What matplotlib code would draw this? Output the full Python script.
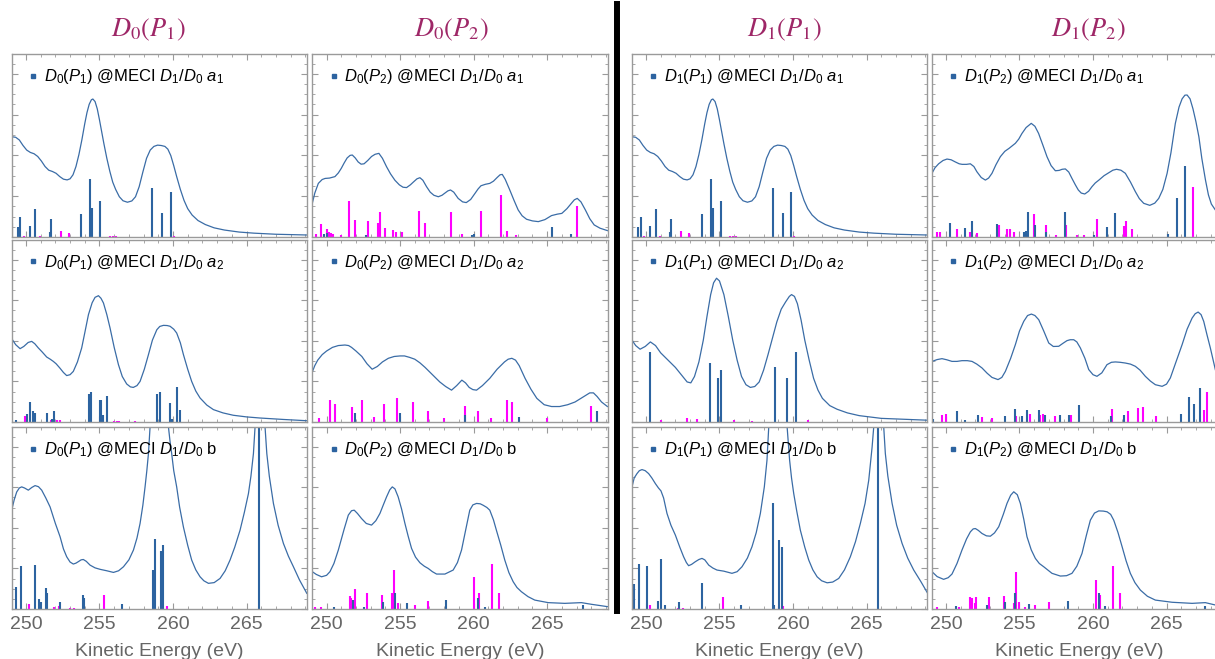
import numpy as np
import matplotlib.pyplot as plt
from matplotlib.ticker import MultipleLocator
from matplotlib.lines import Line2D

plt.rcParams['font.family'] = ['Liberation Sans', 'DejaVu Sans']
plt.rcParams['mathtext.fontset'] = 'custom'
plt.rcParams['mathtext.it'] = 'Liberation Sans:italic'
plt.rcParams['mathtext.rm'] = 'Liberation Sans'

# ---- labels ----
col_titles = [r'$D_0(P_1)$', r'$D_0(P_2)$', r'$D_1(P_1)$', r'$D_1(P_2)$']
row_tags = [r'$a_1$', r'$a_2$', 'b']
xticks = [250, 255, 260, 265]
xlabel = 'Kinetic Energy (eV)'

# ---- row 1 : @MECI D1/D0 a1 ----
d0p1_a1_x = [249.03, 249.3, 249.55, 249.8, 250.05, 250.3, 250.55, 250.8, 251.05, 251.3, 251.55,
             251.8, 252.05, 252.3, 252.55, 252.8, 253.0, 253.2, 253.4, 253.6, 253.8, 254.0,
             254.15, 254.3, 254.45, 254.55, 254.7, 254.85, 255.0, 255.15, 255.3, 255.5, 255.7,
             255.9, 256.1, 256.35, 256.6, 256.9, 257.2, 257.45, 257.7, 257.95, 258.2, 258.45,
             258.7, 258.95, 259.2, 259.45, 259.65, 259.85, 260.05, 260.25, 260.5, 260.75, 261.0,
             261.3, 261.7, 262.2, 262.8, 263.5, 264.5, 265.5, 267.0, 269.1]
d0p1_a1_y = [0.548, 0.545, 0.53, 0.50, 0.475, 0.462, 0.455, 0.44, 0.415, 0.385, 0.365,
             0.358, 0.348, 0.33, 0.316, 0.312, 0.318, 0.34, 0.385, 0.45, 0.53, 0.62,
             0.68, 0.725, 0.75, 0.754, 0.74, 0.70, 0.64, 0.575, 0.51, 0.43, 0.36,
             0.30, 0.26, 0.22, 0.198, 0.19, 0.197, 0.22, 0.275, 0.355, 0.43, 0.475,
             0.495, 0.502, 0.50, 0.495, 0.48, 0.445, 0.39, 0.33, 0.26, 0.20, 0.155,
             0.12, 0.09, 0.068, 0.05, 0.038, 0.027, 0.021, 0.015, 0.011]
d0p1_a1_bx = [249.08, 249.48, 249.6, 250.28, 250.62, 251.64, 251.68, 253.72, 254.36, 254.52, 255.02,
              258.6, 259.28, 259.85]
d0p1_a1_bh = [0.075, 0.056, 0.111, 0.06, 0.153, 0.03, 0.098, 0.124, 0.315, 0.16, 0.197,
              0.266, 0.129, 0.246]
d0p1_a1_mx = [249.9, 250.96, 252.4, 252.9, 255.7, 255.9, 256.1, 260.1]
d0p1_a1_mh = [0.008, 0.007, 0.033, 0.02, 0.005, 0.005, 0.005, 0.006]

d0p2_a1_x = [249.03, 249.2, 249.44, 249.7, 249.9, 250.2, 250.57, 250.8, 251.0, 251.2, 251.4,
             251.6, 251.75, 251.95, 252.15, 252.35, 252.55, 252.8, 253.06, 253.3, 253.56, 253.8,
             254.08, 254.35, 254.65, 254.95, 255.2, 255.44, 255.7, 255.9, 256.15, 256.35, 256.55,
             256.8, 257.05, 257.3, 257.6, 257.85, 258.05, 258.25, 258.43, 258.65, 258.95, 259.25,
             259.5, 259.8, 260.1, 260.3, 260.5, 260.8, 261.1, 261.35, 261.6, 261.8, 261.95,
             262.15, 262.46, 262.75, 263.03, 263.3, 263.6, 264.0, 264.4, 264.85, 265.3, 265.7,
             266.0, 266.35, 266.65, 266.85, 267.05, 267.3, 267.6, 267.9, 268.2, 268.6, 269.1]
d0p2_a1_y = [0.184, 0.24, 0.293, 0.314, 0.32, 0.322, 0.33, 0.35, 0.375, 0.405, 0.432,
             0.446, 0.448, 0.432, 0.41, 0.398, 0.40, 0.418, 0.44, 0.452, 0.457, 0.43,
             0.384, 0.345, 0.31, 0.285, 0.272, 0.27, 0.285, 0.30, 0.318, 0.324, 0.31,
             0.275, 0.245, 0.228, 0.22, 0.228, 0.24, 0.252, 0.257, 0.245, 0.211, 0.192,
             0.188, 0.205, 0.239, 0.262, 0.28, 0.288, 0.293, 0.305, 0.325, 0.34, 0.342,
             0.315, 0.257, 0.2, 0.148, 0.116, 0.097, 0.088, 0.084, 0.095, 0.117, 0.125,
             0.129, 0.155, 0.184, 0.203, 0.211, 0.192, 0.148, 0.1, 0.066, 0.048, 0.035]
d0p2_a1_bx = [249.8, 250.0, 252.7, 259.9, 260.0, 265.36, 266.6]
d0p2_a1_bh = [0.015, 0.02, 0.012, 0.012, 0.014, 0.053, 0.016]
d0p2_a1_mx = [249.28, 249.6, 250.0, 250.15, 250.3, 250.45, 251.0, 251.55, 251.93, 252.79, 253.5,
              253.65, 253.97, 254.54, 254.7, 255.1, 256.3, 256.7, 258.45, 259.2, 260.5, 261.86,
              262.3, 262.9, 267.06]
d0p2_a1_mh = [0.016, 0.069, 0.044, 0.03, 0.02, 0.016, 0.012, 0.197, 0.093, 0.087, 0.078,
              0.137, 0.051, 0.036, 0.025, 0.026, 0.142, 0.075, 0.138, 0.016, 0.14, 0.228,
              0.033, 0.01, 0.171]

d1p1_a1_x = d0p1_a1_x
d1p1_a1_y = [0.548, 0.545, 0.53, 0.50, 0.475, 0.462, 0.455, 0.44, 0.415, 0.385, 0.365,
             0.358, 0.348, 0.33, 0.316, 0.312, 0.318, 0.34, 0.385, 0.45, 0.53, 0.62,
             0.68, 0.725, 0.75, 0.754, 0.74, 0.70, 0.64, 0.575, 0.51, 0.43, 0.36,
             0.30, 0.26, 0.22, 0.198, 0.19, 0.197, 0.22, 0.275, 0.355, 0.43, 0.475,
             0.495, 0.502, 0.50, 0.495, 0.48, 0.445, 0.39, 0.33, 0.26, 0.20, 0.155,
             0.12, 0.09, 0.068, 0.05, 0.038, 0.027, 0.021, 0.015, 0.011]
d1p1_a1_bx = [249.08, 249.48, 249.63, 250.28, 250.65, 251.66, 251.72, 253.78, 254.4, 254.55, 255.07,
              258.62, 259.3, 259.87]
d1p1_a1_bh = [0.075, 0.056, 0.111, 0.06, 0.153, 0.03, 0.098, 0.124, 0.315, 0.16, 0.197,
              0.266, 0.129, 0.246]
d1p1_a1_mx = d0p1_a1_mx
d1p1_a1_mh = d0p1_a1_mh

d1p2_a1_x = [249.05, 249.25, 249.5, 249.8, 250.07, 250.35, 250.64, 250.9, 251.1, 251.4, 251.66,
             251.9, 252.1, 252.4, 252.68, 252.9, 253.13, 253.4, 253.7, 254.0, 254.3, 254.72,
             254.95, 255.17, 255.45, 255.8, 256.05, 256.3, 256.6, 256.87, 257.15, 257.44, 257.7,
             257.9, 258.12, 258.35, 258.57, 258.8, 259.0, 259.2, 259.44, 259.7, 259.93, 260.15,
             260.4, 260.75, 261.07, 261.35, 261.6, 261.9, 262.2, 262.55, 262.88, 263.15, 263.45,
             263.86, 264.2, 264.47, 264.75, 265.04, 265.3, 265.6, 265.85, 266.06, 266.25, 266.4,
             266.6, 266.8, 267.0, 267.2, 267.4, 267.65, 267.85, 268.05, 268.32, 268.7, 269.1]
d1p2_a1_y = [0.348, 0.378, 0.40, 0.418, 0.426, 0.422, 0.41, 0.40, 0.397, 0.397, 0.40,
             0.385, 0.357, 0.325, 0.311, 0.322, 0.348, 0.395, 0.439, 0.468, 0.485, 0.512,
             0.535, 0.566, 0.598, 0.621, 0.605, 0.566, 0.5, 0.439, 0.39, 0.362, 0.364,
             0.37, 0.372, 0.355, 0.32, 0.285, 0.257, 0.24, 0.235, 0.25, 0.275, 0.295,
             0.311, 0.335, 0.351, 0.365, 0.37, 0.365, 0.348, 0.3, 0.248, 0.21, 0.184,
             0.173, 0.185, 0.211, 0.26, 0.348, 0.46, 0.621, 0.71, 0.755, 0.775, 0.776,
             0.755, 0.70, 0.63, 0.548, 0.43, 0.311, 0.23, 0.18, 0.148, 0.11, 0.08]
d1p2_a1_bx = [249.05, 250.3, 251.3, 251.77, 253.5, 255.3, 255.45, 255.56, 256.08, 256.8, 258.12,
              260.1, 260.96, 261.48, 265.1, 265.74, 266.28]
d1p2_a1_bh = [0.08, 0.078, 0.051, 0.086, 0.073, 0.03, 0.035, 0.137, 0.064, 0.03, 0.137,
              0.012, 0.056, 0.129, 0.015, 0.211, 0.388]
d1p2_a1_mx = [249.4, 249.6, 250.75, 251.66, 252.1, 253.58, 254.15, 254.38, 254.6, 256.0, 256.8,
              257.45, 258.17, 258.9, 259.4, 260.27, 262.09, 262.27, 262.66, 266.78]
d1p2_a1_mh = [0.025, 0.027, 0.042, 0.027, 0.023, 0.066, 0.046, 0.046, 0.03, 0.128, 0.066,
              0.011, 0.066, 0.011, 0.011, 0.1, 0.062, 0.087, 0.044, 0.271]

# ---- row 2 : @MECI D1/D0 a2 ----
d0p1_a2_x = [249.03, 249.3, 249.6, 249.85, 250.15, 250.39, 250.6, 250.84, 251.1, 251.41, 251.65,
             251.86, 252.05, 252.3, 252.55, 252.77, 253.0, 253.22, 253.5, 253.79, 254.0, 254.25,
             254.5, 254.7, 254.93, 255.1, 255.27, 255.5, 255.72, 256.0, 256.29, 256.55, 256.85,
             257.1, 257.3, 257.55, 257.76, 258.05, 258.33, 258.6, 258.9, 259.1, 259.35, 259.6,
             259.8, 260.05, 260.25, 260.5, 260.71, 261.0, 261.27, 261.55, 261.84, 262.3, 262.75,
             263.4, 264.1, 265.0, 265.9, 267.5, 269.1]
d0p1_a2_y = [0.458, 0.425, 0.403, 0.415, 0.437, 0.443, 0.43, 0.407, 0.385, 0.357, 0.345,
             0.333, 0.32, 0.297, 0.272, 0.255, 0.26, 0.278, 0.33, 0.407, 0.49, 0.59,
             0.655, 0.685, 0.694, 0.68, 0.654, 0.59, 0.516, 0.41, 0.315, 0.25, 0.209,
             0.193, 0.19, 0.2, 0.223, 0.29, 0.37, 0.45, 0.507, 0.525, 0.531, 0.53,
             0.526, 0.51, 0.489, 0.435, 0.37, 0.29, 0.223, 0.17, 0.132, 0.093, 0.068,
             0.05, 0.037, 0.028, 0.022, 0.014, 0.007]
d0p1_a2_bx = [249.3, 250.05, 250.28, 250.46, 250.6, 251.4, 251.75, 251.9, 254.29, 254.45, 255.02,
              255.1, 255.25, 255.5, 258.94, 259.12, 259.8, 259.95, 260.25, 260.48]
d0p1_a2_bh = [0.011, 0.044, 0.11, 0.059, 0.05, 0.05, 0.018, 0.059, 0.156, 0.163, 0.119,
              0.122, 0.04, 0.141, 0.154, 0.163, 0.104, 0.016, 0.19, 0.068]
d0p1_a2_mx = [249.94, 250.0, 251.7, 251.9, 252.1, 252.3, 256.0, 256.2, 256.3, 257.4]
d0p1_a2_mh = [0.035, 0.013, 0.012, 0.014, 0.012, 0.01, 0.005, 0.005, 0.005, 0.005]

d0p2_a2_x = [249.03, 249.2, 249.4, 249.7, 250.0, 250.4, 250.8, 251.25, 251.5, 251.7, 252.0,
             252.4, 252.75, 253.1, 253.45, 253.8, 254.2, 254.6, 255.0, 255.3, 255.65, 256.0,
             256.35, 256.7, 257.2, 257.7, 258.1, 258.5, 258.85, 259.2, 259.45, 259.7, 259.95,
             260.2, 260.6, 261.1, 261.6, 262.1, 262.35, 262.6, 262.85, 263.1, 263.5, 263.9,
             264.3, 264.8, 265.3, 265.85, 266.4, 266.9, 267.4, 267.9, 268.15, 268.4, 268.7,
             269.1]
d0p2_a2_y = [0.275, 0.31, 0.34, 0.37, 0.39, 0.41, 0.42, 0.423, 0.42, 0.41, 0.39,
             0.36, 0.32, 0.29, 0.305, 0.33, 0.35, 0.36, 0.363, 0.363, 0.355, 0.345,
             0.325, 0.30, 0.26, 0.22, 0.195, 0.175, 0.2, 0.23, 0.215, 0.19, 0.178,
             0.175, 0.2, 0.24, 0.29, 0.33, 0.345, 0.35, 0.34, 0.31, 0.24, 0.18,
             0.13, 0.095, 0.085, 0.085, 0.095, 0.11, 0.135, 0.16, 0.16, 0.14, 0.11,
             0.085]
d0p2_a2_bx = [251.9, 254.98, 259.4, 263.1, 268.4]
d0p2_a2_bh = [0.05, 0.05, 0.04, 0.03, 0.06]
d0p2_a2_mx = [249.5, 250.2, 250.6, 251.7, 252.4, 253.2, 253.9, 254.8, 255.9, 256.9, 258.0,
              259.4, 260.3, 261.2, 262.3, 262.6, 265.0, 268.0]
d0p2_a2_mh = [0.02, 0.12, 0.1, 0.08, 0.12, 0.03, 0.1, 0.13, 0.11, 0.06, 0.02,
              0.09, 0.06, 0.02, 0.12, 0.11, 0.02, 0.09]

d1p1_a2_x = [249.05, 249.3, 249.6, 249.95, 250.3, 250.65, 251.0, 251.5, 252.0, 252.4, 252.8,
             253.05, 253.3, 253.6, 253.9, 254.15, 254.4, 254.6, 254.8, 255.0, 255.3, 255.6,
             255.9, 256.2, 256.5, 256.8, 257.1, 257.4, 257.7, 258.0, 258.3, 258.6, 258.9,
             259.2, 259.5, 259.75, 259.9, 260.1, 260.3, 260.55, 260.8, 261.1, 261.4, 261.7,
             262.0, 262.5, 263.0, 263.7, 264.5, 266.0, 269.1]
d1p1_a2_y = [0.45, 0.42, 0.40, 0.415, 0.44, 0.42, 0.38, 0.34, 0.30, 0.26, 0.22,
             0.215, 0.25, 0.33, 0.45, 0.58, 0.70, 0.765, 0.79, 0.775, 0.70, 0.58,
             0.45, 0.34, 0.25, 0.205, 0.19, 0.195, 0.22, 0.285, 0.37, 0.46, 0.55,
             0.62, 0.66, 0.69, 0.70, 0.69, 0.65, 0.56, 0.45, 0.34, 0.24, 0.175,
             0.13, 0.09, 0.07, 0.05, 0.035, 0.02, 0.01]
d1p1_a2_bx = [250.3, 254.35, 254.9, 255.1, 258.8, 259.6, 260.2]
d1p1_a2_bh = [0.385, 0.324, 0.24, 0.286, 0.30, 0.24, 0.385]
d1p1_a2_mx = [251.0, 252.8, 253.5, 256.0, 257.2, 261.0]
d1p1_a2_mh = [0.01, 0.02, 0.015, 0.01, 0.008, 0.01]

d1p2_a2_x = [249.05, 249.4, 249.73, 250.05, 250.41, 250.75, 251.09, 251.45, 251.77, 252.1, 252.45,
             252.8, 253.13, 253.54, 253.8, 254.04, 254.4, 254.72, 255.0, 255.29, 255.55, 255.81,
             256.05, 256.31, 256.65, 256.99, 257.3, 257.67, 257.95, 258.23, 258.45, 258.69, 258.9,
             259.14, 259.45, 259.71, 260.0, 260.27, 260.6, 260.95, 261.25, 261.52, 261.85, 262.2,
             262.55, 262.88, 263.2, 263.56, 263.9, 264.24, 264.7, 265.0, 265.26, 265.6, 266.06,
             266.4, 266.74, 266.95, 267.15, 267.35, 267.53, 267.75, 267.98, 268.32, 268.7, 269.1]
d1p2_a2_y = [0.333, 0.343, 0.348, 0.342, 0.333, 0.333, 0.337, 0.337, 0.333, 0.318, 0.297,
             0.268, 0.245, 0.233, 0.245, 0.278, 0.35, 0.425, 0.5, 0.553, 0.585, 0.593,
             0.585, 0.562, 0.5, 0.434, 0.415, 0.416, 0.432, 0.447, 0.452, 0.452, 0.44,
             0.407, 0.35, 0.288, 0.26, 0.251, 0.27, 0.315, 0.328, 0.33, 0.328, 0.324,
             0.318, 0.306, 0.285, 0.251, 0.225, 0.205, 0.196, 0.208, 0.242, 0.32, 0.425,
             0.51, 0.571, 0.595, 0.604, 0.59, 0.553, 0.48, 0.407, 0.288, 0.18, 0.1]
d1p2_a2_bx = [249.15, 250.75, 251.3, 252.18, 254.0, 254.72, 255.2, 255.51, 256.31, 256.75, 257.75,
              258.35, 259.07, 261.2, 262.1, 266.01, 266.51, 266.85, 267.3]
d1p2_a2_bh = [0.018, 0.059, 0.013, 0.037, 0.031, 0.073, 0.033, 0.068, 0.066, 0.037, 0.037,
              0.04, 0.092, 0.031, 0.04, 0.046, 0.136, 0.099, 0.187]
d1p2_a2_mx = [249.73, 250.0, 252.45, 253.13, 254.77, 255.74, 256.4, 256.62, 257.4, 258.5, 261.3,
              262.4, 263.04, 263.4, 264.3, 267.55, 267.76]
d1p2_a2_mh = [0.04, 0.044, 0.027, 0.022, 0.031, 0.044, 0.04, 0.044, 0.035, 0.04, 0.071,
              0.059, 0.079, 0.081, 0.035, 0.068, 0.163]

# ---- row 3 : @MECI D1/D0 b ----
d0p1_b_x = [249.03, 249.2, 249.37, 249.55, 249.71, 249.9, 250.16, 250.4, 250.62, 250.85, 251.07,
            251.35, 251.64, 252.0, 252.32, 252.55, 252.77, 253.0, 253.22, 253.4, 253.56, 253.75,
            253.9, 254.1, 254.36, 254.7, 255.04, 255.5, 255.95, 256.3, 256.63, 257.0, 257.31,
            257.55, 257.76, 257.95, 258.1, 258.22, 258.33, 258.44, 258.6, 258.8, 259.05, 259.3,
            259.5, 259.69, 259.8, 259.91, 260.05, 260.25, 260.45, 260.71, 261.0, 261.27, 261.55,
            261.84, 262.1, 262.41, 262.8, 263.2, 263.55, 263.88, 264.2, 264.56, 264.85, 265.13,
            265.3, 265.47, 265.58, 265.8, 266.1, 266.26, 266.38, 266.55, 266.83, 267.15, 267.51,
            267.85, 268.19, 268.6, 269.1]
d0p1_b_y = [0.543, 0.60, 0.643, 0.665, 0.671, 0.665, 0.653, 0.668, 0.678, 0.672, 0.653,
            0.61, 0.561, 0.47, 0.397, 0.33, 0.287, 0.258, 0.247, 0.252, 0.26, 0.27,
            0.272, 0.262, 0.241, 0.226, 0.218, 0.21, 0.201, 0.21, 0.232, 0.27, 0.324,
            0.39, 0.47, 0.57, 0.671, 0.76, 0.854, 1.0, 1.3, 1.7, 1.9, 1.7,
            1.3, 1.0, 0.92, 0.854, 0.76, 0.671, 0.56, 0.45, 0.35, 0.269, 0.215,
            0.177, 0.155, 0.141, 0.145, 0.168, 0.21, 0.269, 0.34, 0.433, 0.53, 0.634,
            0.73, 0.854, 1.0, 3.0, 3.0, 1.0, 0.854, 0.73, 0.58, 0.46, 0.36,
            0.29, 0.232, 0.16, 0.086]
d0p1_b_bx = [249.08, 249.3, 249.64, 250.62, 250.91, 251.05, 251.37, 251.45, 252.34, 253.9, 253.97,
             256.51, 258.67, 258.78, 259.16, 259.3, 265.83]
d0p1_b_bh = [0.113, 0.119, 0.236, 0.24, 0.053, 0.04, 0.113, 0.09, 0.04, 0.079, 0.06,
             0.027, 0.214, 0.382, 0.318, 0.351, 1.2]
d0p1_b_mx = [250.2, 251.9, 252.25, 253.0, 253.3, 255.31, 259.62]
d0p1_b_mh = [0.027, 0.013, 0.016, 0.007, 0.006, 0.075, 0.018]

d0p2_b_x = [249.03, 249.3, 249.66, 250.0, 250.23, 250.5, 250.8, 251.2, 251.48, 251.7, 251.88,
            252.1, 252.38, 252.7, 253.06, 253.35, 253.63, 253.85, 254.08, 254.3, 254.47, 254.65,
            254.87, 255.1, 255.33, 255.55, 255.78, 256.05, 256.35, 256.65, 256.91, 257.2, 257.48,
            258.05, 258.61, 258.9, 259.18, 259.45, 259.74, 259.95, 260.2, 260.45, 260.65, 260.9,
            261.1, 261.35, 261.55, 261.85, 262.12, 262.4, 262.69, 262.95, 263.25, 263.7, 264.16,
            265.07, 266.2, 267.33, 268.0, 269.1]
d0p2_b_y = [0.205, 0.19, 0.177, 0.185, 0.205, 0.25, 0.324, 0.44, 0.516, 0.54, 0.543,
            0.525, 0.497, 0.47, 0.461, 0.485, 0.525, 0.57, 0.616, 0.655, 0.671, 0.66,
            0.616, 0.55, 0.47, 0.40, 0.333, 0.285, 0.254, 0.235, 0.223, 0.205, 0.192,
            0.192, 0.214, 0.255, 0.324, 0.43, 0.543, 0.572, 0.58, 0.578, 0.57, 0.558,
            0.543, 0.49, 0.433, 0.35, 0.269, 0.20, 0.15, 0.118, 0.095, 0.068, 0.049,
            0.035, 0.031, 0.035, 0.026, 0.013]
d0p2_b_bx = [250.5, 251.8, 252.55, 253.85, 254.65, 255.5, 258.11, 260.27, 260.75, 267.44]
d0p2_b_bh = [0.013, 0.049, 0.013, 0.04, 0.086, 0.035, 0.048, 0.058, 0.013, 0.022]
d0p2_b_mx = [249.2, 249.6, 251.6, 251.68, 251.93, 252.72, 253.74, 254.42, 254.6, 254.85, 256.0,
             256.87, 260.04, 260.36, 261.22, 261.73]
d0p2_b_mh = [0.01, 0.01, 0.071, 0.058, 0.108, 0.086, 0.077, 0.09, 0.214, 0.035, 0.022,
             0.044, 0.174, 0.086, 0.247, 0.09]

d1p1_b_x = [249.05, 249.2, 249.39, 249.55, 249.73, 249.95, 250.18, 250.4, 250.64, 250.85, 251.02,
            251.2, 251.43, 251.7, 252.0, 252.3, 252.56, 252.75, 252.9, 253.1, 253.36, 253.6,
            253.81, 254.0, 254.27, 254.55, 254.83, 255.29, 255.85, 256.2, 256.53, 256.9, 257.21,
            257.5, 257.78, 258.05, 258.23, 258.35, 258.6, 258.95, 259.3, 259.6, 259.77, 259.9,
            260.05, 260.25, 260.5, 260.8, 261.07, 261.35, 261.64, 261.95, 262.32, 262.7, 263.11,
            263.5, 263.9, 264.25, 264.58, 264.9, 265.15, 265.38, 265.49, 265.7, 266.0, 266.17,
            266.28, 266.45, 266.74, 267.05, 267.42, 267.8, 268.21, 268.7, 269.16]
d1p1_b_y = [0.671, 0.72, 0.744, 0.76, 0.766, 0.76, 0.744, 0.72, 0.689, 0.665, 0.649,
            0.61, 0.525, 0.46, 0.406, 0.34, 0.287, 0.255, 0.238, 0.245, 0.26, 0.272,
            0.278, 0.27, 0.241, 0.225, 0.214, 0.208, 0.196, 0.205, 0.232, 0.28, 0.342,
            0.42, 0.525, 0.671, 0.817, 1.0, 1.4, 1.9, 1.4, 1.0, 0.817, 0.72,
            0.634, 0.54, 0.433, 0.34, 0.269, 0.215, 0.177, 0.155, 0.144, 0.148, 0.168,
            0.215, 0.287, 0.37, 0.47, 0.58, 0.707, 0.89, 1.0, 3.0, 3.0, 1.0,
            0.854, 0.73, 0.58, 0.46, 0.36, 0.28, 0.214, 0.15, 0.086]
d1p1_b_bx = [249.16, 249.55, 250.07, 250.82, 251.02, 251.3, 252.22, 253.83, 256.46, 258.64, 258.7,
             259.07, 259.23, 265.78]
d1p1_b_bh = [0.137, 0.247, 0.236, 0.044, 0.274, 0.02, 0.04, 0.144, 0.022, 0.583, 0.02,
             0.378, 0.34, 1.2]
d1p1_b_mx = [250.25, 252.2, 252.5, 255.22, 259.05, 259.3]
d1p1_b_mh = [0.02, 0.008, 0.007, 0.068, 0.016, 0.018]

d1p2_b_x = [249.05, 249.4, 249.84, 250.15, 250.41, 250.75, 251.09, 251.4, 251.66, 251.85, 252.0,
            252.2, 252.45, 252.75, 253.02, 253.3, 253.59, 253.9, 254.15, 254.4, 254.61, 254.85,
            255.06, 255.3, 255.51, 255.8, 256.08, 256.35, 256.65, 257.21, 257.78, 258.2, 258.57,
            258.9, 259.25, 259.55, 259.82, 260.1, 260.39, 260.7, 260.96, 261.2, 261.41, 261.7,
            261.98, 262.25, 262.54, 262.85, 263.22, 263.7, 264.24, 265.38, 266.74, 267.64, 268.32,
            269.1]
d1p2_b_y = [0.205, 0.178, 0.163, 0.172, 0.192, 0.25, 0.324, 0.385, 0.424, 0.44, 0.442,
            0.432, 0.415, 0.402, 0.40, 0.418, 0.452, 0.52, 0.58, 0.625, 0.644, 0.628,
            0.58, 0.49, 0.397, 0.325, 0.278, 0.25, 0.232, 0.196, 0.181, 0.183, 0.196,
            0.235, 0.305, 0.405, 0.488, 0.527, 0.539, 0.538, 0.534, 0.52, 0.488, 0.42,
            0.342, 0.265, 0.196, 0.145, 0.104, 0.07, 0.049, 0.037, 0.031, 0.035, 0.022,
            0.015]
d1p2_b_bx = [250.7, 252.8, 254.04, 254.72, 255.68, 258.28, 260.43, 260.85, 267.6]
d1p2_b_bh = [0.016, 0.022, 0.04, 0.086, 0.027, 0.044, 0.09, 0.018, 0.016]
d1p2_b_mx = [249.4, 250.9, 251.66, 251.77, 251.95, 252.07, 252.9, 253.93, 254.6, 254.76, 254.98,
             255.4, 256.08, 257.03, 260.21, 260.5, 261.34, 261.86]
d1p2_b_mh = [0.01, 0.01, 0.068, 0.062, 0.031, 0.068, 0.068, 0.071, 0.035, 0.205, 0.04,
             0.013, 0.022, 0.04, 0.159, 0.077, 0.236, 0.086]

panels = [
    [(d0p1_a1_x, d0p1_a1_y, d0p1_a1_bx, d0p1_a1_bh, d0p1_a1_mx, d0p1_a1_mh),
     (d0p2_a1_x, d0p2_a1_y, d0p2_a1_bx, d0p2_a1_bh, d0p2_a1_mx, d0p2_a1_mh),
     (d1p1_a1_x, d1p1_a1_y, d1p1_a1_bx, d1p1_a1_bh, d1p1_a1_mx, d1p1_a1_mh),
     (d1p2_a1_x, d1p2_a1_y, d1p2_a1_bx, d1p2_a1_bh, d1p2_a1_mx, d1p2_a1_mh)],
    [(d0p1_a2_x, d0p1_a2_y, d0p1_a2_bx, d0p1_a2_bh, d0p1_a2_mx, d0p1_a2_mh),
     (d0p2_a2_x, d0p2_a2_y, d0p2_a2_bx, d0p2_a2_bh, d0p2_a2_mx, d0p2_a2_mh),
     (d1p1_a2_x, d1p1_a2_y, d1p1_a2_bx, d1p1_a2_bh, d1p1_a2_mx, d1p1_a2_mh),
     (d1p2_a2_x, d1p2_a2_y, d1p2_a2_bx, d1p2_a2_bh, d1p2_a2_mx, d1p2_a2_mh)],
    [(d0p1_b_x, d0p1_b_y, d0p1_b_bx, d0p1_b_bh, d0p1_b_mx, d0p1_b_mh),
     (d0p2_b_x, d0p2_b_y, d0p2_b_bx, d0p2_b_bh, d0p2_b_mx, d0p2_b_mh),
     (d1p1_b_x, d1p1_b_y, d1p1_b_bx, d1p1_b_bh, d1p1_b_mx, d1p1_b_mh),
     (d1p2_b_x, d1p2_b_y, d1p2_b_bx, d1p2_b_bh, d1p2_b_mx, d1p2_b_mh)],
]

# ---- style ----
W, H = 1215, 659
curve_c = '#3A6CA6'
stick_c = '#2C63A0'
mag_c = '#FF00FF'
title_c = '#9E2767'
grey = '#666666'
frame_c = '#9A9A9A'

col_left = [11.7, 312.3, 631.7, 931.7]
col_w = 295.4
row_top = [54, 240, 427]
row_h = [183, 182, 182]
title_x = [148, 451, 784, 1088]

fig = plt.figure(figsize=(W / 100, H / 100), dpi=100)

for r in range(3):
    for c in range(4):
        ax = fig.add_axes([col_left[c] / W, 1 - (row_top[r] + row_h[r]) / H,
                           col_w / W, row_h[r] / H])
        cx, cy, bx, bh, mx, mh = panels[r][c]
        ax.vlines(mx, 0, mh, colors=mag_c, lw=1.5)
        ax.vlines(bx, 0, bh, colors=stick_c, lw=1.5)
        ax.plot(cx, cy, color=curve_c, lw=0.9)
        ax.set_xlim(249.03, 269.12)
        ax.set_ylim(0, 1)
        ax.xaxis.set_major_locator(MultipleLocator(5))
        ax.xaxis.set_minor_locator(MultipleLocator(1))
        ax.yaxis.set_major_locator(MultipleLocator(0.223))
        ax.yaxis.set_minor_locator(MultipleLocator(0.0557))
        ax.tick_params(which='both', direction='in', top=True, right=True,
                       color=frame_c, labelleft=False, labelbottom=(r == 2),
                       labelsize=14, labelcolor=grey, pad=5)
        ax.tick_params(which='major', length=4.5, width=0.8)
        ax.tick_params(which='minor', length=2.2, width=0.6)
        ax.set_xticks(xticks)
        for s in ax.spines.values():
            s.set_color(frame_c)
            s.set_linewidth(1.0)
        if r == 2:
            ax.set_xlabel(xlabel, fontsize=14, color=grey, labelpad=7)
        label = col_titles[c] + ' @MECI $D_1/D_0$ ' + row_tags[r]
        h = Line2D([], [], marker='s', ls='none', color=stick_c, markersize=3.5)
        ax.legend([h], [label], loc='upper left', frameon=False, fontsize=12,
                  handlelength=0.6, handletextpad=0.35, borderaxespad=0.4,
                  bbox_to_anchor=(0.01, 1.0))

for c in range(4):
    fig.text(title_x[c] / W, 1 - 30 / H, col_titles[c], ha='center', va='center',
             fontsize=19, color=title_c, math_fontfamily='stix')

fig.add_artist(Line2D([617 / W, 617 / W], [1 - 4 / H, 1 - 611 / H], color='black', lw=4.3))

fig.savefig('out.png', dpi=100)
